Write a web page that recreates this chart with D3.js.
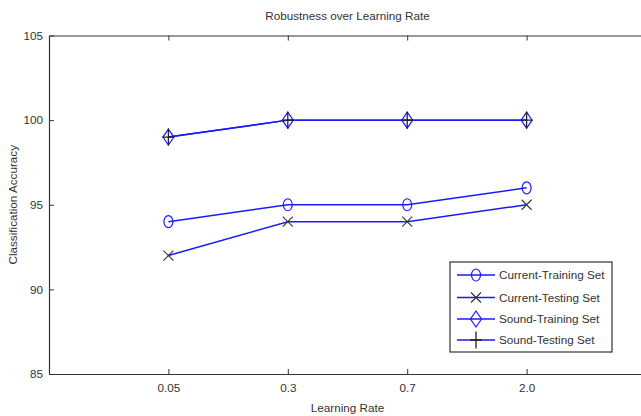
<!DOCTYPE html>
<html>
<head>
<meta charset="utf-8">
<script src="https://cdn.jsdelivr.net/npm/d3@7"></script>
<style>
  html, body { margin: 0; padding: 0; background: #fff; }
  svg { display: block; }
  text { font-family: "Liberation Sans", Arial, sans-serif; fill: #333; }
</style>
</head>
<body>
<svg id="chart" width="641" height="416"></svg>
<script>
// Learning rates tested and accuracies (%) for each set
const learningRates = ["0.05", "0.3", "0.7", "2.0"];
const currentTraining = [94, 95, 95, 96];
const currentTesting  = [92, 94, 94, 95];
const soundTraining   = [99, 100, 100, 100];
const soundTesting    = [99, 100, 100, 100];
const yTicks = [85, 90, 95, 100, 105];

const series = [
  { name: "Current-Training Set", values: currentTraining, marker: "circle",  mcolor: "#1a1aff" },
  { name: "Current-Testing Set",  values: currentTesting,  marker: "x",       mcolor: "#333" },
  { name: "Sound-Training Set",   values: soundTraining,   marker: "diamond", mcolor: "#1a1aff" },
  { name: "Sound-Testing Set",    values: soundTesting,    marker: "plus",    mcolor: "#222" }
];

const svg = d3.select("#chart");
const plotLeft = 49, plotRight = 646, plotTop = 35.5, plotBottom = 374;
const fontSize = "11.7px";

const x = d3.scaleLinear().domain([0, learningRates.length + 1]).range([plotLeft, plotRight]);
const y = d3.scaleLinear().domain([85, 105]).range([plotBottom, plotTop]);

const axisColor = "#333";
const lineColor = "#1a1aff";

// Tick marks pointing inward on all four sides
const tickLen = 5;
const xAxisBottom = d3.axisBottom(x).tickValues(d3.range(1, learningRates.length + 1))
  .tickFormat(i => learningRates[i - 1]).tickSizeInner(-tickLen).tickSizeOuter(0).tickPadding(10);
const xAxisTop = d3.axisTop(x).tickValues(d3.range(1, learningRates.length + 1))
  .tickFormat("").tickSizeInner(-tickLen).tickSizeOuter(0);
const yAxisLeft = d3.axisLeft(y).tickValues(yTicks).tickFormat(d3.format("d"))
  .tickSizeInner(-tickLen).tickSizeOuter(0).tickPadding(6);
const yAxisRight = d3.axisRight(y).tickValues(yTicks).tickFormat("")
  .tickSizeInner(-tickLen).tickSizeOuter(0);

function styleAxis(g) {
  g.select(".domain").attr("stroke", axisColor).attr("stroke-width", 1.2);
  g.selectAll(".tick line").attr("stroke", axisColor).attr("stroke-width", 1);
  g.selectAll(".tick text").attr("fill", "#333").style("font-size", fontSize)
    .style("font-family", "'Liberation Sans', Arial, sans-serif");
}

svg.append("g").attr("transform", `translate(0,${plotBottom})`).call(xAxisBottom).call(styleAxis);
svg.append("g").attr("transform", `translate(0,${plotTop})`).call(xAxisTop).call(styleAxis);
svg.append("g").attr("transform", `translate(${plotLeft},0)`).call(yAxisLeft).call(styleAxis);
svg.append("g").attr("transform", `translate(${plotRight},0)`).call(yAxisRight).call(styleAxis);

// Titles
svg.append("text").attr("x", (plotLeft + plotRight) / 2).attr("y", 20).attr("text-anchor", "middle")
  .style("font-size", fontSize).text("Robustness over Learning Rate");
svg.append("text").attr("x", (plotLeft + plotRight) / 2).attr("y", 412).attr("text-anchor", "middle")
  .style("font-size", fontSize).text("Learning Rate");
svg.append("text").attr("transform", `translate(17,${(plotTop + plotBottom) / 2}) rotate(-90)`)
  .attr("text-anchor", "middle").style("font-size", fontSize).text("Classification Accuracy");

// Marker drawing
function drawMarker(g, type, cx, cy, color) {
  if (type === "circle") {
    g.append("ellipse").attr("cx", cx).attr("cy", cy).attr("rx", 4.5).attr("ry", 6)
      .attr("fill", "none").attr("stroke", color).attr("stroke-width", 1.2);
  } else if (type === "diamond") {
    g.append("path").attr("d", `M${cx},${cy - 8}L${cx + 5.5},${cy}L${cx},${cy + 8}L${cx - 5.5},${cy}Z`)
      .attr("fill", "none").attr("stroke", color).attr("stroke-width", 1.2);
  } else if (type === "x") {
    const s = 5;
    g.append("path").attr("d", `M${cx - s},${cy - s}L${cx + s},${cy + s}M${cx - s},${cy + s}L${cx + s},${cy - s}`)
      .attr("stroke", color).attr("stroke-width", 1.1);
  } else if (type === "plus") {
    g.append("path").attr("d", `M${cx - 6},${cy}L${cx + 6},${cy}M${cx},${cy - 8.5}L${cx},${cy + 8.5}`)
      .attr("stroke", color).attr("stroke-width", 1.3);
  }
}

const line = d3.line().x((d, i) => x(i + 1)).y(d => y(d));

series.forEach(s => {
  const g = svg.append("g");
  g.append("path").datum(s.values).attr("d", line)
    .attr("fill", "none").attr("stroke", lineColor).attr("stroke-width", 1.5);
  s.values.forEach((v, i) => drawMarker(g, s.marker, x(i + 1), y(v), s.mcolor));
});

// Legend
const lg = svg.append("g");
const lx = 450, ly = 262, lw = 162, lh = 90;
lg.append("rect").attr("x", lx).attr("y", ly).attr("width", lw).attr("height", lh)
  .attr("fill", "#fff").attr("stroke", axisColor).attr("stroke-width", 1.2);
const rowY = [275, 297.5, 319, 340];
series.forEach((s, i) => {
  const yy = rowY[i];
  lg.append("line").attr("x1", lx + 7).attr("x2", lx + 45).attr("y1", yy).attr("y2", yy)
    .attr("stroke", lineColor).attr("stroke-width", 1.5);
  drawMarker(lg, s.marker, lx + 26, yy, s.mcolor);
  lg.append("text").attr("x", lx + 49).attr("y", yy + 4).style("font-size", fontSize).text(s.name);
});
</script>
</body>
</html>
